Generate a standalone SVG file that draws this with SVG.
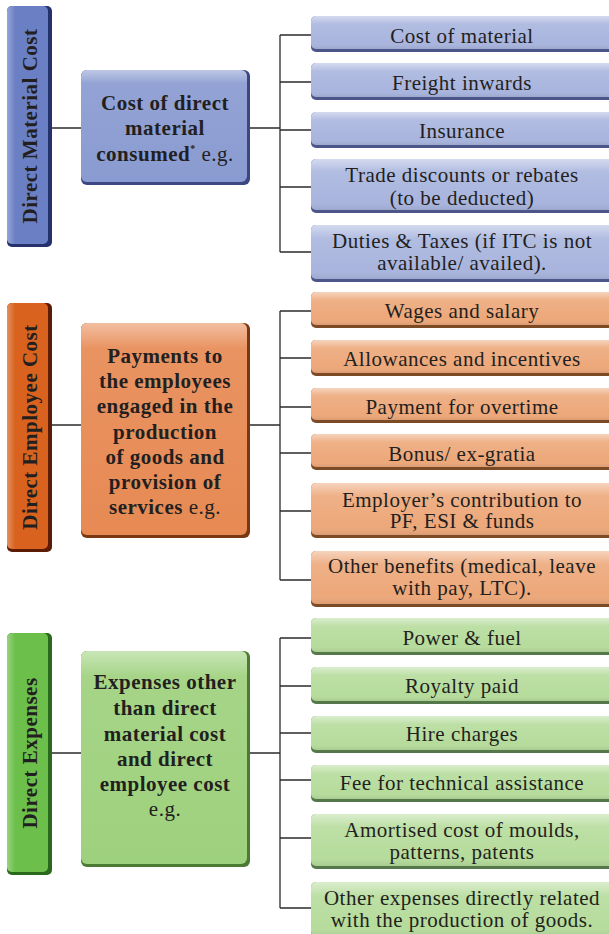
<svg xmlns="http://www.w3.org/2000/svg" width="609" height="934" viewBox="0 0 609 934">
<defs>
<linearGradient id="hl" x1="0" y1="0" x2="0" y2="1">
<stop offset="0" stop-color="#ffffff" stop-opacity="0.45"/>
<stop offset="0.12" stop-color="#ffffff" stop-opacity="0.08"/>
<stop offset="1" stop-color="#ffffff" stop-opacity="0"/>
</linearGradient>
<linearGradient id="hlc" x1="0" y1="0" x2="0" y2="1">
<stop offset="0" stop-color="#ffffff" stop-opacity="0.5"/>
<stop offset="0.25" stop-color="#ffffff" stop-opacity="0.1"/>
<stop offset="0.8" stop-color="#ffffff" stop-opacity="0"/>
<stop offset="1" stop-color="#000000" stop-opacity="0.08"/>
</linearGradient>
<linearGradient id="hll" x1="0" y1="0" x2="1" y2="0">
<stop offset="0" stop-color="#ffffff" stop-opacity="0.3"/>
<stop offset="0.2" stop-color="#ffffff" stop-opacity="0"/>
<stop offset="1" stop-color="#ffffff" stop-opacity="0"/>
</linearGradient>
</defs>
<style>
.lbl{font-family:"Liberation Serif","Times New Roman",serif;font-weight:bold;font-size:21px;letter-spacing:0.5px;fill:#231f20;text-anchor:middle}
.mt{font-family:"Liberation Serif","Times New Roman",serif;font-weight:bold;font-size:21px;letter-spacing:0.5px;fill:#231f20;text-anchor:middle}
.ct{font-family:"Liberation Serif","Times New Roman",serif;font-size:21px;letter-spacing:0.5px;fill:#231f20;text-anchor:middle}
.rg{font-weight:normal}
.con{fill:none;stroke:#2b2b2b;stroke-width:1.3}
.sb1{fill:#25316a}.fb1{fill:#6b7fc4}
.sb2{fill:#3c4782}.fb2{fill:#8a9bd1}
.sb3{fill:#4c5689}.fb3{fill:#a9b5de}
.so1{fill:#5c1c04}.fo1{fill:#d9621e}
.so2{fill:#7a3812}.fo2{fill:#e78a54}
.so3{fill:#7d4a26}.fo3{fill:#eda87a}
.sg1{fill:#2a681b}.fg1{fill:#6dbf4c}
.sg2{fill:#4a7a33}.fg2{fill:#9ed17d}
.sg3{fill:#55784a}.fg3{fill:#b6dc9c}
</style>

<g id="connectors">
<path class="con" d="M52,128 H81 M250,128 H280 M280,35 V252 M280,35 H311 M280,82 H311 M280,130 H311 M280,187 H311 M280,252 H311"/>
<path class="con" d="M52,425 H81 M250,425 H280 M280,311 V580 M280,311 H311 M280,358 H311 M280,407 H311 M280,453 H311 M280,511 H311 M280,580 H311"/>
<path class="con" d="M52,753 H81 M250,753 H280 M280,638 V908 M280,638 H311 M280,686 H311 M280,733 H311 M280,780 H311 M280,838 H311 M280,908 H311"/>
</g>

<!-- Section 1: Direct Material Cost -->
<g id="label-material">
<rect class="sb1" x="7" y="6" width="45" height="241" rx="5"/>
<rect class="fb1" x="7" y="6" width="41" height="238" rx="5"/>
<rect fill="url(#hll)" x="7" y="6" width="41" height="238" rx="5"/>
<text class="lbl" transform="translate(37,126) rotate(-90)">Direct Material Cost</text>
</g>
<g id="main-material">
<rect class="sb2" x="81" y="70" width="169" height="115" rx="6"/>
<rect class="fb2" x="81" y="70" width="166" height="112" rx="6"/>
<rect fill="url(#hl)" x="81" y="70" width="166" height="112" rx="6"/>
<text class="mt" x="165" y="110">Cost of direct</text>
<text class="mt" x="165" y="135">material</text>
<text class="mt" x="165" y="160.5">consumed<tspan font-size="10" dy="-9">*</tspan><tspan class="rg" dy="9"> e.g.</tspan></text>
</g>
<g id="m1">
<rect class="sb3" x="311" y="16" width="304" height="36" rx="5"/>
<rect class="fb3" x="311" y="16" width="304" height="33" rx="5"/>
<rect fill="url(#hlc)" x="311" y="16" width="304" height="33" rx="5"/>
<text class="ct" x="462" y="42.5">Cost of material</text>
</g>
<g id="m2">
<rect class="sb3" x="311" y="63" width="304" height="37" rx="5"/>
<rect class="fb3" x="311" y="63" width="304" height="34" rx="5"/>
<rect fill="url(#hlc)" x="311" y="63" width="304" height="34" rx="5"/>
<text class="ct" x="462" y="90">Freight inwards</text>
</g>
<g id="m3">
<rect class="sb3" x="311" y="112" width="304" height="36" rx="5"/>
<rect class="fb3" x="311" y="112" width="304" height="33" rx="5"/>
<rect fill="url(#hlc)" x="311" y="112" width="304" height="33" rx="5"/>
<text class="ct" x="462" y="137.5">Insurance</text>
</g>
<g id="m4">
<rect class="sb3" x="311" y="159" width="304" height="54" rx="5"/>
<rect class="fb3" x="311" y="159" width="304" height="51" rx="5"/>
<rect fill="url(#hlc)" x="311" y="159" width="304" height="51" rx="5"/>
<text class="ct" x="462" y="181.5">Trade discounts or rebates</text>
<text class="ct" x="462" y="204.5">(to be deducted)</text>
</g>
<g id="m5">
<rect class="sb3" x="311" y="225" width="304" height="57" rx="5"/>
<rect class="fb3" x="311" y="225" width="304" height="54" rx="5"/>
<rect fill="url(#hlc)" x="311" y="225" width="304" height="54" rx="5"/>
<text class="ct" x="462" y="247.5">Duties &amp; Taxes (if ITC is not</text>
<text class="ct" x="462" y="269.5">available/ availed).</text>
</g>

<!-- Section 2: Direct Employee Cost -->
<g id="label-employee">
<rect class="so1" x="7" y="303" width="45" height="249" rx="5"/>
<rect class="fo1" x="7" y="303" width="41" height="246" rx="5"/>
<rect fill="url(#hll)" x="7" y="303" width="41" height="246" rx="5"/>
<text class="lbl" transform="translate(37,427) rotate(-90)">Direct Employee Cost</text>
</g>
<g id="main-employee">
<rect class="so2" x="81" y="323" width="169" height="215" rx="6"/>
<rect class="fo2" x="81" y="323" width="166" height="212" rx="6"/>
<rect fill="url(#hl)" x="81" y="323" width="166" height="212" rx="6"/>
<text class="mt" x="165" y="362.7">Payments to</text>
<text class="mt" x="165" y="388">the employees</text>
<text class="mt" x="165" y="413.3">engaged in the</text>
<text class="mt" x="165" y="438.5">production</text>
<text class="mt" x="165" y="464">of goods and</text>
<text class="mt" x="165" y="489.3">provision of</text>
<text class="mt" x="165" y="514.3">services<tspan class="rg"> e.g.</tspan></text>
</g>
<g id="e1">
<rect class="so3" x="311" y="292" width="304" height="36" rx="5"/>
<rect class="fo3" x="311" y="292" width="304" height="33" rx="5"/>
<rect fill="url(#hlc)" x="311" y="292" width="304" height="33" rx="5"/>
<text class="ct" x="462" y="318.3">Wages and salary</text>
</g>
<g id="e2">
<rect class="so3" x="311" y="340" width="304" height="36" rx="5"/>
<rect class="fo3" x="311" y="340" width="304" height="33" rx="5"/>
<rect fill="url(#hlc)" x="311" y="340" width="304" height="33" rx="5"/>
<text class="ct" x="462" y="366">Allowances and incentives</text>
</g>
<g id="e3">
<rect class="so3" x="311" y="388" width="304" height="35" rx="5"/>
<rect class="fo3" x="311" y="388" width="304" height="32" rx="5"/>
<rect fill="url(#hlc)" x="311" y="388" width="304" height="32" rx="5"/>
<text class="ct" x="462" y="414.3">Payment for overtime</text>
</g>
<g id="e4">
<rect class="so3" x="311" y="434" width="304" height="36" rx="5"/>
<rect class="fo3" x="311" y="434" width="304" height="33" rx="5"/>
<rect fill="url(#hlc)" x="311" y="434" width="304" height="33" rx="5"/>
<text class="ct" x="462" y="460.7">Bonus/ ex-gratia</text>
</g>
<g id="e5">
<rect class="so3" x="311" y="483" width="304" height="55" rx="5"/>
<rect class="fo3" x="311" y="483" width="304" height="52" rx="5"/>
<rect fill="url(#hlc)" x="311" y="483" width="304" height="52" rx="5"/>
<text class="ct" x="462" y="506.7">Employer’s contribution to</text>
<text class="ct" x="462" y="528.3">PF, ESI &amp; funds</text>
</g>
<g id="e6">
<rect class="so3" x="311" y="551" width="304" height="56" rx="5"/>
<rect class="fo3" x="311" y="551" width="304" height="53" rx="5"/>
<rect fill="url(#hlc)" x="311" y="551" width="304" height="53" rx="5"/>
<text class="ct" x="462" y="573.3">Other benefits (medical, leave</text>
<text class="ct" x="462" y="595">with pay, LTC).</text>
</g>

<!-- Section 3: Direct Expenses -->
<g id="label-expenses">
<rect class="sg1" x="7" y="633" width="45" height="242" rx="5"/>
<rect class="fg1" x="7" y="633" width="41" height="239" rx="5"/>
<rect fill="url(#hll)" x="7" y="633" width="41" height="239" rx="5"/>
<text class="lbl" transform="translate(37,753) rotate(-90)">Direct Expenses</text>
</g>
<g id="main-expenses">
<rect class="sg2" x="81" y="651" width="169" height="216" rx="6"/>
<rect class="fg2" x="81" y="651" width="166" height="213" rx="6"/>
<rect fill="url(#hl)" x="81" y="651" width="166" height="213" rx="6"/>
<text class="mt" x="165" y="689.3">Expenses other</text>
<text class="mt" x="165" y="715">than direct</text>
<text class="mt" x="165" y="740.7">material cost</text>
<text class="mt" x="165" y="765.7">and direct</text>
<text class="mt" x="165" y="791">employee cost</text>
<text class="mt rg" x="165" y="815.7">e.g.</text>
</g>
<g id="x1">
<rect class="sg3" x="311" y="618" width="304" height="37" rx="5"/>
<rect class="fg3" x="311" y="618" width="304" height="34" rx="5"/>
<rect fill="url(#hlc)" x="311" y="618" width="304" height="34" rx="5"/>
<text class="ct" x="462" y="645">Power &amp; fuel</text>
</g>
<g id="x2">
<rect class="sg3" x="311" y="667" width="304" height="37" rx="5"/>
<rect class="fg3" x="311" y="667" width="304" height="34" rx="5"/>
<rect fill="url(#hlc)" x="311" y="667" width="304" height="34" rx="5"/>
<text class="ct" x="462" y="693.3">Royalty paid</text>
</g>
<g id="x3">
<rect class="sg3" x="311" y="716" width="304" height="37" rx="5"/>
<rect class="fg3" x="311" y="716" width="304" height="34" rx="5"/>
<rect fill="url(#hlc)" x="311" y="716" width="304" height="34" rx="5"/>
<text class="ct" x="462" y="741">Hire charges</text>
</g>
<g id="x4">
<rect class="sg3" x="311" y="765" width="304" height="37" rx="5"/>
<rect class="fg3" x="311" y="765" width="304" height="34" rx="5"/>
<rect fill="url(#hlc)" x="311" y="765" width="304" height="34" rx="5"/>
<text class="ct" x="462" y="790">Fee for technical assistance</text>
</g>
<g id="x5">
<rect class="sg3" x="311" y="814" width="304" height="55" rx="5"/>
<rect class="fg3" x="311" y="814" width="304" height="52" rx="5"/>
<rect fill="url(#hlc)" x="311" y="814" width="304" height="52" rx="5"/>
<text class="ct" x="462" y="836.7">Amortised cost of moulds,</text>
<text class="ct" x="462" y="859.3">patterns, patents</text>
</g>
<g id="x6">
<rect class="sg3" x="311" y="882" width="304" height="58" rx="5"/>
<rect class="fg3" x="311" y="882" width="304" height="55" rx="5"/>
<rect fill="url(#hlc)" x="311" y="882" width="304" height="55" rx="5"/>
<text class="ct" x="462" y="905">Other expenses directly related</text>
<text class="ct" x="462" y="927">with the production of goods.</text>
</g>
</svg>
